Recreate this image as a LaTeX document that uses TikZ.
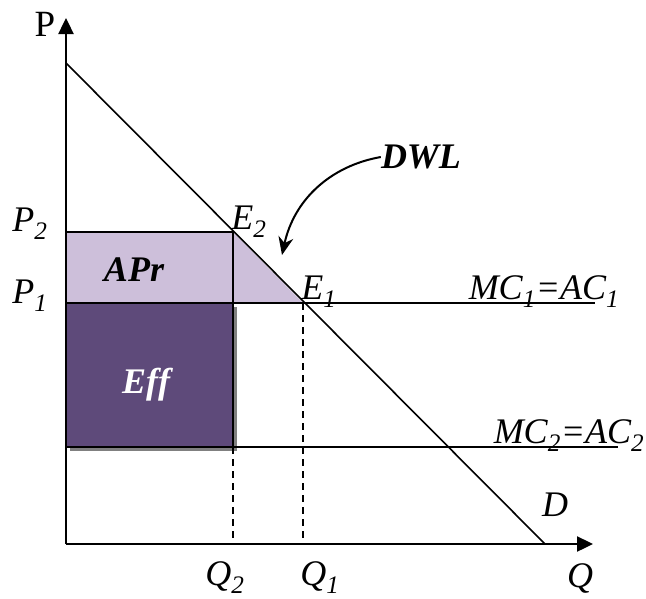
\documentclass[tikz,border=0pt]{standalone}
\usepackage{fontspec}
\setmainfont{Liberation Serif}
\usetikzlibrary{arrows.meta}
\definecolor{effpurple}{RGB}{94,74,122}
\definecolor{aprlilac}{RGB}{205,191,218}
\definecolor{shadegray}{RGB}{128,128,128}
\tikzset{
  axis/.style={line width=2.4pt,-{Triangle[length=16pt,width=15pt]}},
  curve/.style={line width=1.6pt},
  guide/.style={line width=1.6pt,dash pattern=on 7pt off 5pt},
  lbl/.style={font=\fontsize{36}{42}\selectfont\itshape,inner sep=0pt},
  blbl/.style={font=\fontsize{36}{42}\selectfont\bfseries\itshape,inner sep=0pt},
  ulbl/.style={font=\fontsize{37}{42}\selectfont,inner sep=0pt}
}
\begin{document}
\begin{tikzpicture}[x=1pt,y=-1pt]
  \useasboundingbox (0,0) rectangle (646,598);
  \coordinate (O) at (66,544);
  \coordinate (Ptop) at (66,18);
  \coordinate (Qend) at (593,544);
  \coordinate (Dtop) at (66,63);
  \coordinate (Dbot) at (545,544);
  \coordinate (E2) at (233,232);
  \coordinate (E1) at (303,303);
  \coordinate (P2) at (66,232);
  \coordinate (P1) at (66,303);
  \coordinate (P1end) at (595,303);
  \coordinate (C2) at (66,447);
  \coordinate (C2end) at (618,447);
  \coordinate (Q2top) at (233,447);
  \coordinate (Q2) at (233,544);
  \coordinate (Q1) at (303,544);
  \coordinate (dwltip) at (282,255);
  \fill[aprlilac] (P2) -- (E2) -- (E1) -- (P1) -- cycle;
  \fill[shadegray] (70,307) rectangle (237,451);
  \draw[line width=2pt,fill=effpurple] (P1) rectangle (Q2top);
  \draw[curve] (P2) -- (E2) -- (Q2top);
  \draw[curve] (P1) -- (P1end);
  \draw[curve] (C2) -- (C2end);
  \draw[guide] (Q2top) -- (Q2);
  \draw[guide] (E1) -- (Q1);
  \draw[curve] (Dtop) -- (Dbot);
  \draw[axis] (O) -- (Ptop);
  \draw[axis] (O) -- (Qend);
  \node[ulbl] (plbl) at (45,24) {P};
  \node[lbl] (p2lbl) at (30,224) {P\textsubscript{2}};
  \node[lbl] (p1lbl) at (30,296) {P\textsubscript{1}};
  \node[lbl] (e2lbl) at (249,222) {E\textsubscript{2}};
  \node[lbl] (e1lbl) at (319,292) {E\textsubscript{1}};
  \node[blbl] (dwl) at (421,157) {DWL};
  \node[blbl] (apr) at (134,270) {APr};
  \node[blbl,text=white] (eff) at (146,385) {Ef\kern0ptf};
  \node[lbl] (mc1) at (544,292) {MC\textsubscript{1}=AC\textsubscript{1}};
  \node[lbl] (mc2) at (569,436) {MC\textsubscript{2}=AC\textsubscript{2}};
  \node[lbl] (dlbl) at (555,505) {D};
  \node[lbl] (q2lbl) at (225,578) {Q\textsubscript{2}};
  \node[lbl] (q1lbl) at (320,578) {Q\textsubscript{1}};
  \node[lbl] (qlbl) at (580,578) {Q};
  \draw[curve,line width=2pt,-{Stealth[length=18pt,width=15pt]}] (dwl.west) .. controls (330,166) and (294,200) .. (dwltip);
\end{tikzpicture}
\end{document}
